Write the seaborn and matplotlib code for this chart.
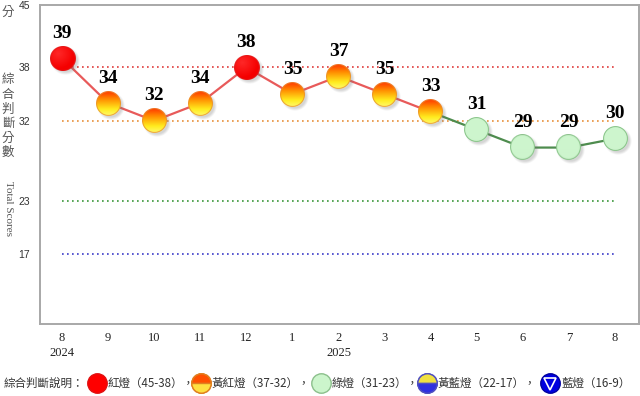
import numpy as np
import pandas as pd
import matplotlib
matplotlib.use("Agg")
import matplotlib.pyplot as plt
import seaborn as sns
from matplotlib.offsetbox import OffsetImage, AnnotationBbox
from matplotlib.lines import Line2D

# ---------------- data ----------------
months = ["8", "9", "10", "11", "12", "1", "2", "3", "4", "5", "6", "7", "8"]
years = ["2024", "", "", "", "", "", "2025", "", "", "", "", "", ""]
scores = [39, 34, 32, 34, 38, 35, 37, 35, 33, 31, 29, 29, 30]
lights = ["red", "yr", "yr", "yr", "red", "yr", "yr", "yr", "yr",
          "green", "green", "green", "green"]
thresholds = [38, 32, 23, 17]
threshold_colors = ["#e03a3a", "#e8903a", "#3a963a", "#3a3ac8"]
ytick_vals = [17, 23, 32, 38, 45]
legend_labels = ["紅燈（45-38）", "黃紅燈（37-32）", "綠燈（31-23）", "黃藍燈（22-17）", "藍燈（16-9）"]

# ---------------- setup ----------------
sns.set_theme(style="white")
plt.rcParams["font.family"] = ["Noto Sans CJK TC", "DejaVu Sans"]

fig = plt.figure(figsize=(6.4, 3.96), dpi=100)
ax = fig.add_axes([40 / 640, 1 - 324 / 396, 599 / 640, 319 / 396])

df = pd.DataFrame({"x": np.arange(len(scores)), "score": scores, "light": lights})
red_part = df.iloc[:9]
green_part = df.iloc[8:]

# threshold dotted lines
for v, c in zip(thresholds, threshold_colors):
    ax.plot([df["x"].min(), df["x"].max()], [v, v], linestyle=(0, (1, 2)),
            color=c, lw=1.2, zorder=1)

sns.lineplot(data=red_part, x="x", y="score", color="#e85a5a", lw=1.6,
             ax=ax, zorder=2, legend=False)
sns.lineplot(data=green_part, x="x", y="score", color="#4e8c4e", lw=1.6,
             ax=ax, zorder=2, legend=False)

palette = {"red": "#ff0000", "yr": "#ffa000", "green": "#ccf5cc"}
sns.scatterplot(data=df, x="x", y="score", hue="light", palette=palette,
                s=260, edgecolor="none", ax=ax, zorder=3, legend=False)


# ---------------- gradient marker images ----------------
def make_marker(kind, D=25, pad=5, ss=4):
    N = (D + 2 * pad) * ss
    yy, xx = np.mgrid[0:N, 0:N] + 0.5
    c = N / 2.0
    R = D * ss / 2.0
    d = np.hypot(xx - c, yy - c)
    alpha = np.clip(R - d + 0.5, 0, 1)
    # shadow
    ds = np.hypot(xx - c - 2.5 * ss, yy - c - 2.5 * ss)
    sh = np.clip((R + 1.5 * ss - ds) / (3.0 * ss), 0, 1) * 0.3
    f = np.clip((yy - (c - R)) / (2 * R), 0, 1)[..., None]
    if kind == "red":
        hx, hy = c - 0.35 * R, c - 0.4 * R
        t = np.clip(np.hypot(xx - hx, yy - hy) / (1.2 * R), 0, 1)[..., None]
        col = (1 - t) * np.array([255, 40, 40]) + t * np.array([245, 0, 0])
        edge = np.array([225, 20, 20])
    elif kind == "yr":
        c0 = np.array([255, 50, 0]); c1 = np.array([255, 140, 0])
        c2 = np.array([255, 235, 30]); c3 = np.array([255, 252, 110])
        a1 = np.clip(f / 0.32, 0, 1)
        a2 = np.clip((f - 0.32) / 0.4, 0, 1)
        a3 = np.clip((f - 0.72) / 0.28, 0, 1)
        col = np.where(f < 0.32, (1 - a1) * c0 + a1 * c1,
                       np.where(f < 0.72, (1 - a2) * c1 + a2 * c2,
                                (1 - a3) * c2 + a3 * c3))
        edge = np.array([232, 140, 50])
    else:
        col = np.ones((N, N, 1)) * np.array([205, 245, 205])
        edge = np.array([115, 180, 115])
    ring = np.clip(1.0 - np.abs(d - (R - 0.6 * ss)) / (0.8 * ss), 0, 1)[..., None]
    col = col * (1 - ring) + edge * ring
    col = col / 255.0
    shadow_rgb = np.array([0.45, 0.45, 0.45])
    a = alpha + sh * (1 - alpha)
    prem = col * alpha[..., None] + shadow_rgb * (sh * (1 - alpha))[..., None]
    n = N // ss
    prem = prem.reshape(n, ss, n, ss, 3).mean(axis=(1, 3))
    a = a.reshape(n, ss, n, ss).mean(axis=(1, 3))
    rgb = np.where(a[..., None] > 0, prem / np.maximum(a[..., None], 1e-6), 0)
    return np.dstack([np.clip(rgb, 0, 1), a])


imgs = {k: make_marker(k) for k in ["red", "yr", "green"]}
for _, row in df.iterrows():
    ob = OffsetImage(imgs[row["light"]], zoom=1, dpi_cor=False)
    ab = AnnotationBbox(ob, (row["x"], row["score"]), xycoords="data",
                        frameon=False, pad=0, box_alignment=(0.5, 0.5))
    ab.set_zorder(4)
    ax.add_artist(ab)
    ax.annotate(str(row["score"]), (row["x"], row["score"]),
                xytext=(0, 25), textcoords="offset pixels",
                ha="center", va="center", fontsize=14, fontweight="bold",
                family="Liberation Serif", color="black", zorder=6)

# ---------------- axes ----------------
ax.set_xlim(-0.48, 12.52)
ax.set_ylim(9.2, 45)
ax.set_xticks(df["x"])
ax.set_xticklabels([m + ("\n" + y if y else "") for m, y in zip(months, years)],
                   family="Liberation Serif", fontsize=9, color="#222",
                   linespacing=1.25)
ax.set_yticks(ytick_vals)
ax.set_yticklabels([str(v) for v in ytick_vals], family="Liberation Sans",
                   fontsize=7.5, color="#333")
ax.tick_params(axis="x", length=0, pad=6)
ax.tick_params(axis="y", length=0, pad=7)
ax.set_xlabel("")
ax.set_ylabel("")
for sp in ax.spines.values():
    sp.set_color("#a8a8a8")
    sp.set_linewidth(1.4)

# y-axis label pieces
fig.text(8 / 640, 1 - 12 / 396, "分", fontsize=9, color="#555",
         ha="center", va="center")
for i, ch in enumerate("綜合判斷分數"):
    fig.text(8 / 640, 1 - (80 + 14.5 * i) / 396, ch, fontsize=9, color="#555",
             ha="center", va="center")
fig.text(8 / 640, 1 - 208 / 396, "Total Scores", rotation=270, fontsize=8,
         family="Liberation Serif", color="#555", ha="center", va="center")

# ---------------- bottom legend ----------------
ly = 1 - 383 / 396
fig.text(4 / 640, ly, "綜合判斷說明：", fontsize=8.3, color="#333",
         ha="left", va="center")
icon_x = [97, 201, 321, 427, 550]
face = ["#ff0000", "#ff9a00", "#ccf5cc", "#d8d070", "#0000e0"]
edges = ["#e01010", "#e08020", "#8cc08c", "#5050c0", "#0000a0"]
for i, (lab, xx) in enumerate(zip(legend_labels, icon_x)):
    fig.add_artist(Line2D([xx / 640], [ly], marker="o", markersize=14,
                          markerfacecolor=face[i], markeredgecolor=edges[i],
                          transform=fig.transFigure, linestyle="none"))
    if i == 1:
        fig.add_artist(Line2D([xx / 640], [ly], marker="o", markersize=14,
                              fillstyle="top", markerfacecolor="#ff5000",
                              markerfacecoloralt="#ffe040", markeredgecolor=edges[i],
                              transform=fig.transFigure, linestyle="none"))
    if i == 3:
        fig.add_artist(Line2D([xx / 640], [ly], marker="o", markersize=14,
                              fillstyle="top", markerfacecolor="#f0e040",
                              markerfacecoloralt="#3030e0", markeredgecolor=edges[i],
                              transform=fig.transFigure, linestyle="none"))
    if i == 4:
        fig.add_artist(Line2D([xx / 640], [ly - 0.003], marker="v", markersize=9,
                              markerfacecolor="none", markeredgecolor="white",
                              markeredgewidth=1.2,
                              transform=fig.transFigure, linestyle="none"))
    txt = lab + ("，" if i < 4 else "")
    fig.text((xx + 11) / 640, ly, txt, fontsize=8.3, color="#333",
             ha="left", va="center")

fig.savefig("out.png", dpi=100)
